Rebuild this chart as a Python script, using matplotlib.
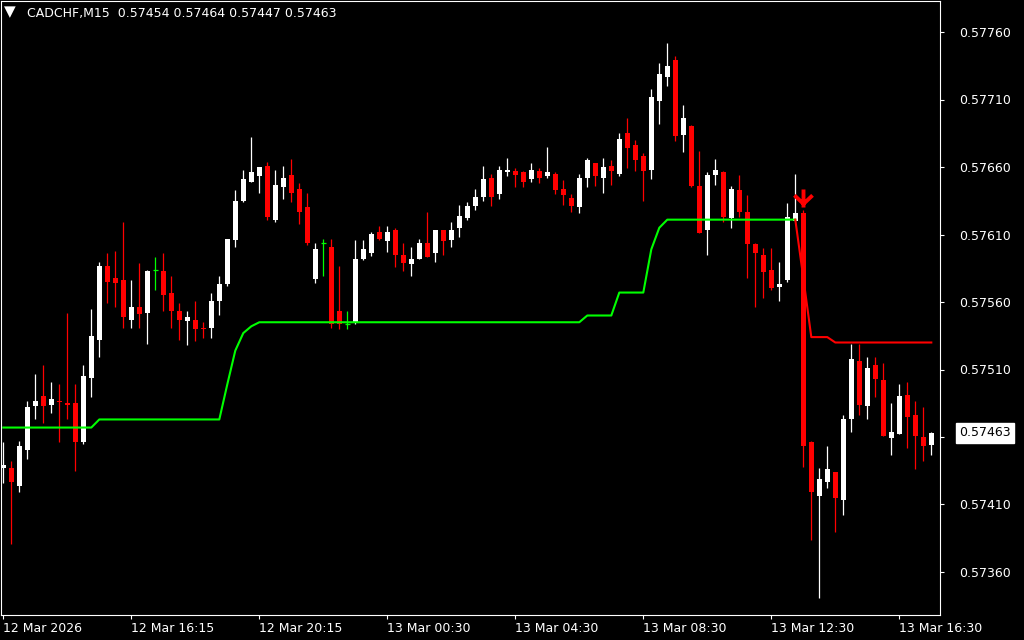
import numpy as np
import matplotlib.pyplot as plt
from matplotlib.path import Path

symbol = 'CADCHF,M15'

# OHLC in points (1e-5), one value per M15 candle
opens = [57437, 57437, 57424, 57450, 57483, 57490, 57484, 57487, 57485, 57485,
         57456, 57504, 57532, 57587, 57578, 57576, 57547, 57556, 57552, 57584,
         57583, 57567, 57553, 57546, 57547, 57541, 57541, 57561, 57573, 57606,
         57635, 57649, 57653, 57661, 57621, 57645, 57654, 57644, 57630, 57577,
         57604, 57601, 57553, 57544, 57545, 57592, 57596, 57612, 57605, 57613,
         57595, 57588, 57592, 57604, 57596, 57613, 57606, 57615, 57622, 57631,
         57638, 57652, 57640, 57656, 57657, 57656, 57651, 57657, 57653, 57655,
         57644, 57637, 57630, 57652, 57663, 57652, 57661, 57655, 57685, 57676,
         57668, 57658, 57709, 57727, 57739, 57684, 57690, 57646, 57613, 57654,
         57656, 57622, 57643, 57627, 57603, 57595, 57584, 57571, 57576, 57620,
         57626, 57456, 57416, 57427, 57434, 57413, 57473, 57516, 57483, 57513,
         57502, 57459, 57462, 57491, 57476, 57460, 57454]
highs = [57456, 57442, 57457, 57487, 57507, 57513, 57501, 57499, 57552, 57499,
         57513, 57555, 57590, 57596, 57598, 57619, 57576, 57589, 57584, 57593,
         57596, 57579, 57559, 57553, 57561, 57545, 57567, 57579, 57607, 57643,
         57658, 57682, 57660, 57664, 57658, 57661, 57666, 57648, 57641, 57604,
         57607, 57607, 57587, 57553, 57606, 57606, 57612, 57616, 57616, 57615,
         57604, 57601, 57607, 57627, 57613, 57613, 57619, 57632, 57634, 57644,
         57661, 57655, 57661, 57667, 57659, 57657, 57663, 57659, 57675, 57656,
         57650, 57640, 57655, 57667, 57663, 57667, 57665, 57685, 57696, 57680,
         57670, 57718, 57737, 57752, 57742, 57706, 57691, 57672, 57656, 57666,
         57657, 57646, 57654, 57639, 57604, 57600, 57600, 57590, 57633, 57655,
         57628, 57457, 57437, 57453, 57434, 57476, 57529, 57529, 57519, 57519,
         57515, 57485, 57499, 57501, 57487, 57482, 57464]
lows = [57426, 57381, 57419, 57444, 57473, 57470, 57478, 57456, 57473, 57435,
        57455, 57490, 57519, 57559, 57556, 57541, 57541, 57541, 57529, 57569,
        57553, 57541, 57532, 57528, 57531, 57533, 57533, 57550, 57572, 57601,
        57634, 57649, 57641, 57621, 57619, 57636, 57634, 57618, 57602, 57574,
        57579, 57541, 57540, 57540, 57544, 57591, 57594, 57606, 57597, 57586,
        57583, 57579, 57592, 57593, 57590, 57595, 57601, 57608, 57621, 57628,
        57635, 57631, 57636, 57653, 57645, 57645, 57649, 57648, 57652, 57640,
        57632, 57627, 57626, 57645, 57646, 57641, 57647, 57653, 57659, 57657,
        57635, 57651, 57692, 57720, 57679, 57671, 57645, 57611, 57595, 57647,
        57619, 57615, 57623, 57578, 57556, 57563, 57569, 57561, 57575, 57620,
        57438, 57384, 57341, 57422, 57390, 57402, 57464, 57476, 57473, 57490,
        57461, 57447, 57462, 57452, 57436, 57442, 57447]
closes = [57439, 57427, 57453, 57482, 57487, 57483, 57488, 57486, 57484, 57456,
          57505, 57535, 57587, 57575, 57574, 57549, 57556, 57551, 57583, 57584,
          57565, 57553, 57547, 57549, 57540, 57540, 57561, 57573, 57607, 57635,
          57651, 57656, 57660, 57623, 57647, 57652, 57641, 57627, 57604, 57599,
          57604, 57544, 57544, 57544, 57592, 57599, 57610, 57607, 57612, 57595,
          57589, 57592, 57604, 57593, 57613, 57605, 57613, 57624, 57631, 57638,
          57651, 57638, 57658, 57658, 57654, 57649, 57658, 57652, 57656, 57643,
          57639, 57631, 57652, 57665, 57653, 57660, 57657, 57681, 57674, 57665,
          57657, 57712, 57729, 57735, 57683, 57696, 57646, 57611, 57654, 57658,
          57623, 57644, 57627, 57603, 57596, 57582, 57570, 57573, 57623, 57626,
          57453, 57419, 57429, 57436, 57415, 57473, 57518, 57484, 57511, 57503,
          57461, 57464, 57490, 57475, 57461, 57453, 57463]

# trailing line: green while long (candles 0-99), red after the sell signal (99-116)
green_line = [57467, 57467, 57467, 57467, 57467, 57467, 57467, 57467, 57467, 57467,
              57467, 57467, 57473, 57473, 57473, 57473, 57473, 57473, 57473, 57473,
              57473, 57473, 57473, 57473, 57473, 57473, 57473, 57473, 57499, 57524,
              57537, 57542, 57545, 57545, 57545, 57545, 57545, 57545, 57545, 57545,
              57545, 57545, 57545, 57545, 57545, 57545, 57545, 57545, 57545, 57545,
              57545, 57545, 57545, 57545, 57545, 57545, 57545, 57545, 57545, 57545,
              57545, 57545, 57545, 57545, 57545, 57545, 57545, 57545, 57545, 57545,
              57545, 57545, 57545, 57550, 57550, 57550, 57550, 57567, 57567, 57567,
              57567, 57599, 57615, 57621, 57621, 57621, 57621, 57621, 57621, 57621,
              57621, 57621, 57621, 57621, 57621, 57621, 57621, 57621, 57621, 57621]
red_start = 99
red_line = [57621, 57578, 57534, 57534, 57534, 57530, 57530, 57530, 57530, 57530,
            57530, 57530, 57530, 57530, 57530, 57530, 57530, 57530]

sell_idx = 100
sell_price = 0.57637

xtick_pos = [0, 16, 32, 48, 64, 80, 96, 112]
xtick_labels = ['12 Mar 2026', '12 Mar 16:15', '12 Mar 20:15', '13 Mar 00:30',
                '13 Mar 04:30', '13 Mar 08:30', '13 Mar 12:30', '13 Mar 16:30']
ytick_vals = [0.57360, 0.57410, 0.57460, 0.57510, 0.57560, 0.57610, 0.57660, 0.57710, 0.57760]

o = np.array(opens) / 1e5
h = np.array(highs) / 1e5
l = np.array(lows) / 1e5
c = np.array(closes) / 1e5
x = np.arange(len(o))

up = c > o
down = c < o
doji = c == o

fig = plt.figure(figsize=(10.24, 6.4), dpi=100, facecolor='black')
ax = fig.add_axes([1 / 1024, 25 / 640, 939 / 1024, 614 / 640], facecolor='black')

bw = 0.62
ax.vlines(x[up], l[up], h[up], color='white', lw=0.9)
ax.vlines(x[down], l[down], h[down], color='#ff0000', lw=0.9)
ax.vlines(x[doji], l[doji], h[doji], color='#00ff00', lw=0.9)
ax.bar(x[up], (c - o)[up], bottom=o[up], width=bw, color='white', lw=0)
ax.bar(x[down], (o - c)[down], bottom=c[down], width=bw, color='#ff0000', lw=0)
ax.hlines(c[doji], x[doji] - bw / 2, x[doji] + bw / 2, color='#00ff00', lw=0.9)

ax.plot(x[:len(green_line)], np.array(green_line) / 1e5, color='#00ff00', lw=1.5)
ax.plot(x[red_start:red_start + len(red_line)], np.array(red_line) / 1e5, color='#ff0000', lw=1.5)

# sell arrow
arrow = Path([(0, 1), (0, -1), (-1, 0.35), (0, -0.6), (1, 0.35)],
             [Path.MOVETO, Path.LINETO, Path.MOVETO, Path.LINETO, Path.LINETO])
ax.plot([sell_idx], [sell_price], marker=arrow, ms=13, mfc='none', mec='#ff0000', mew=2.8, ls='none')

ax.set_xlim((1 - 3.3) / 8, (940 - 3.3) / 8)
ax.set_ylim(0.57760 - 583 / 135000, 0.57760 + 31 / 135000)

# current price label sits on top of the 0.57460 level, so that one stays blank
ax.yaxis.tick_right()
ax.set_yticks(ytick_vals)
ax.set_yticklabels(['' if abs(v - c[-1]) < 0.0001 else '%.5f' % v for v in ytick_vals])
ax.set_xticks(xtick_pos)
ax.set_xticklabels(xtick_labels, ha='left')
ax.tick_params(axis='y', colors='white', length=3, width=0.8, pad=10.5, labelsize=9)
ax.tick_params(axis='x', colors='white', length=3, width=0.8, pad=2, labelsize=9)
for s in ax.spines.values():
    s.set_color('white')
    s.set_linewidth(0.8)

# current price label
ax.text((959 - 1) / 939, c[-1], '%.5f' % c[-1], transform=ax.get_yaxis_transform(),
        color='black', fontsize=9, va='center', ha='left',
        bbox=dict(facecolor='white', edgecolor='white', boxstyle='square,pad=0.25'))

# header
fig.text(4 / 1024, 1 - 12 / 640, '\u25bc', color='white', fontsize=11, va='center', ha='left')
fig.text(27 / 1024, 1 - 13 / 640,
         '%s  %.5f %.5f %.5f %.5f' % (symbol, o[-1], h[-1], l[-1], c[-1]),
         color='white', fontsize=9, va='center', ha='left')

fig.savefig('out.png', dpi=100, facecolor='black')
